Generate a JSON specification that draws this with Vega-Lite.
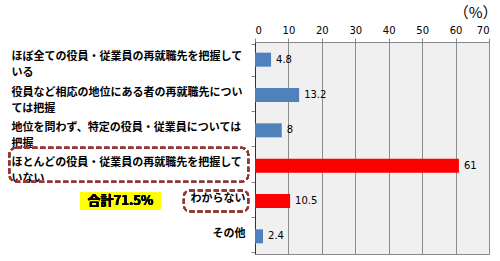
{
  "$schema": "https://vega.github.io/schema/vega-lite/v6.json",
  "width": 234,
  "height": 212,
  "autosize": "none",
  "padding": {"left": 255, "top": 42, "right": 11, "bottom": 7},
  "background": "white",
  "config": {
    "view": {"fill": "#f0f0f0", "stroke": "#888888", "strokeWidth": 1},
    "font": "Noto Sans CJK JP",
    "axisX": {
      "values": [0, 10, 20, 30, 40, 50, 60, 70],
      "titleAnchor": "end",
      "titleAlign": "right",
      "titleBaseline": "middle",
      "titleX": 242,
      "titleY": -30,
      "titleFontSize": 15,
      "titleFontWeight": "normal",
      "titleFont": "Noto Sans CJK JP",
      "titleColor": "black",
      "labelFont": "DejaVu Sans",
      "labelFontSize": 10,
      "labelColor": "black",
      "labelPadding": 3,
      "tickSize": 4,
      "tickColor": "#888888",
      "domain": false,
      "grid": true,
      "gridColor": "#8c8c8c",
      "gridWidth": 1
    }
  },
  "data": {
    "values": [
      {"item": "ほぼ全ての役員・従業員の再就職先を把握して\nいる", "pct": 4.8, "grp": "other"},
      {"item": "役員など相応の地位にある者の再就職先につい\nては把握", "pct": 13.2, "grp": "other"},
      {"item": "地位を問わず、特定の役員・従業員については\n把握", "pct": 8, "grp": "other"},
      {"item": "ほとんどの役員・従業員の再就職先を把握して\nいない", "pct": 61, "grp": "hl"},
      {"item": "わからない", "pct": 10.5, "grp": "hl"},
      {"item": "その他", "pct": 2.4, "grp": "other"}
    ]
  },
  "layer": [
    {
      "mark": {"type": "bar", "size": 14, "stroke": null},
      "encoding": {
        "y": {
          "field": "item", "type": "nominal", "sort": null,
          "axis": {
            "title": null,
            "labelExpr": "split(datum.label, '\\n')",
            "labelLimit": 0,
            "labelFont": "Noto Sans CJK JP",
            "labelFontWeight": "bold",
            "labelFontSize": 11,
            "labelColor": "black",
            "labelLineHeight": 16,
            "labelOffset": -3,
            "labelAlign": {"condition": {"test": "datum.value == 'わからない' || datum.value == 'その他'", "value": "right"}, "value": "left"},
            "labelPadding": {"condition": {"test": "datum.value == 'わからない' || datum.value == 'その他'", "value": 6}, "value": 240},
            "tickBand": "extent",
            "tickSize": 4,
            "tickColor": "#888888",
            "domainColor": "#333333",
            "grid": false
          }
        },
        "x": {
          "field": "pct", "type": "quantitative",
          "scale": {"domain": [0, 70], "nice": false, "clamp": false},
          "axis": {"orient": "top", "title": "（%）"}
        },
        "color": {
          "field": "grp", "type": "nominal",
          "scale": {"domain": ["other", "hl"], "range": ["#4f81bd", "#ff0000"]},
          "legend": null
        }
      }
    },
    {
      "mark": {"type": "text", "align": "left", "baseline": "middle", "dx": 5, "font": "DejaVu Sans", "fontSize": 10, "color": "black"},
      "encoding": {
        "y": {"field": "item", "type": "nominal", "sort": null},
        "x": {"field": "pct", "type": "quantitative", "axis": {"orient": "top", "title": "（%）"}},
        "text": {"field": "pct", "type": "quantitative"}
      }
    },
    {
      "mark": {"type": "bar", "size": 34, "fill": null, "fillOpacity": 0, "stroke": "#953735", "strokeWidth": 2, "strokeDash": [5, 3], "cornerRadius": 7, "yOffset": -1},
      "encoding": {
        "y": {"datum": "ほとんどの役員・従業員の再就職先を把握して\nいない", "type": "nominal"},
        "x": {"datum": -73.5, "type": "quantitative", "axis": {"orient": "top", "title": "（%）"}},
        "x2": {"datum": -2}
      }
    },
    {
      "mark": {"type": "bar", "size": 21, "fill": null, "fillOpacity": 0, "stroke": "#953735", "strokeWidth": 2, "strokeDash": [5, 3], "cornerRadius": 6},
      "encoding": {
        "y": {"datum": "わからない", "type": "nominal"},
        "x": {"datum": -21.3, "type": "quantitative", "axis": {"orient": "top", "title": "（%）"}},
        "x2": {"datum": -2}
      }
    },
    {
      "mark": {"type": "bar", "size": 18, "fill": "#ffff00", "stroke": null},
      "encoding": {
        "y": {"datum": "わからない", "type": "nominal"},
        "x": {"datum": -52.3, "type": "quantitative", "axis": {"orient": "top", "title": "（%）"}},
        "x2": {"datum": -28.2}
      }
    },
    {
      "mark": {"type": "text", "align": "center", "baseline": "middle", "font": "Noto Sans CJK JP", "fontWeight": "bold", "fontSize": 13, "color": "black"},
      "encoding": {
        "y": {"datum": "わからない", "type": "nominal"},
        "x": {"datum": -40.25, "type": "quantitative", "axis": {"orient": "top", "title": "（%）"}},
        "text": {"value": "合計71.5%"}
      }
    }
  ]
}
